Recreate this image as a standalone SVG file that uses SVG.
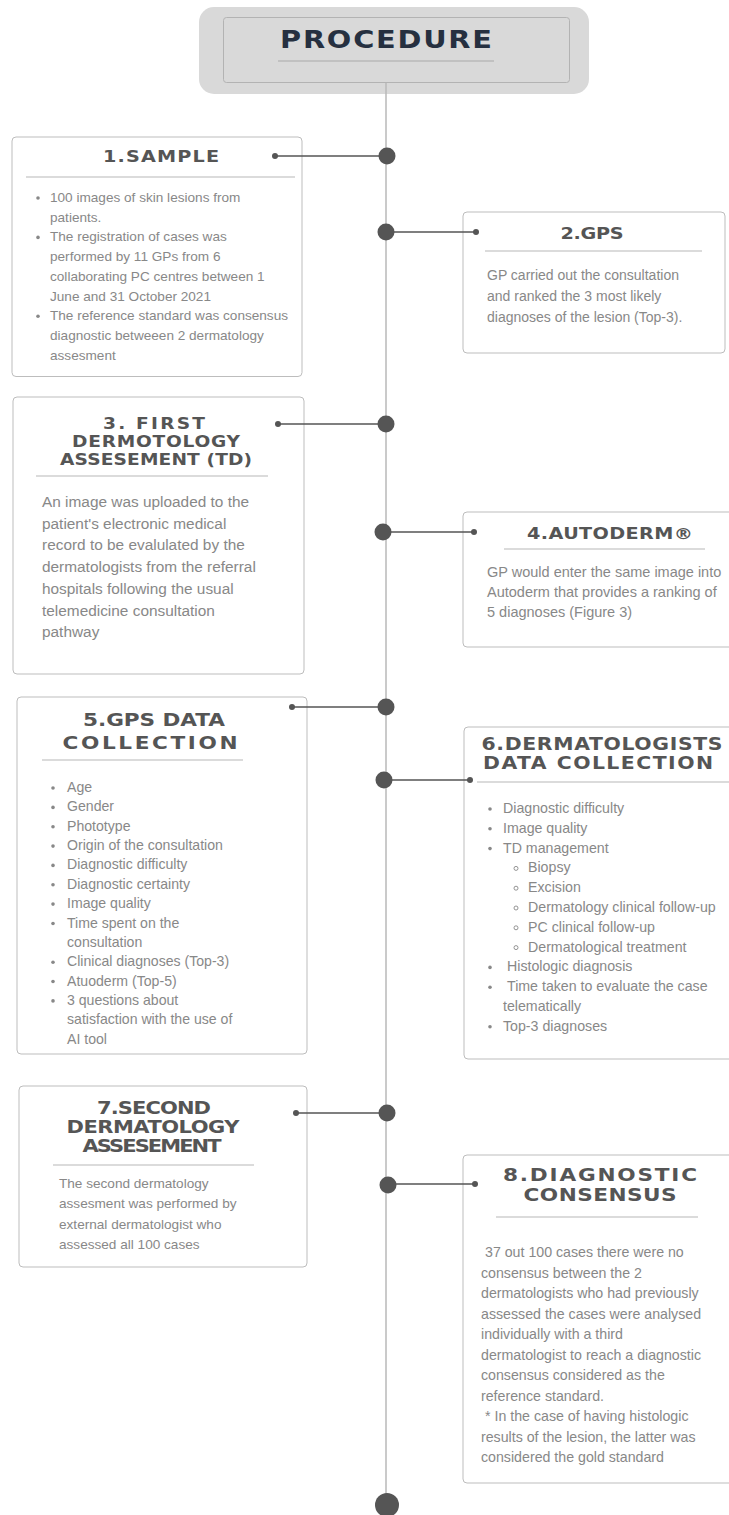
<svg xmlns="http://www.w3.org/2000/svg" width="729" height="1515" viewBox="0 0 729 1515">
<style>
.box{fill:#ffffff;stroke:#bdbdbd;stroke-width:1}
.sep{stroke:#cfcfcf;stroke-width:1.3}
.ttl{font-family:"DejaVu Sans","Liberation Sans",sans-serif;font-weight:bold;fill:#555555;text-anchor:middle}
.b{font-family:"Liberation Sans",Arial,sans-serif;fill:#888888}
.bul{fill:#888888}
.sub{fill:none;stroke:#888888;stroke-width:0.9}
.con{stroke:#555555;stroke-width:1.3;fill:none}
.big{fill:#555555}
.sm{fill:#555555}
</style>
<rect width="729" height="1515" fill="#ffffff"/>

<g id="header">
  <rect x="199" y="7" width="390" height="87" rx="15" fill="#d9d9d9"/>
  <rect x="223.5" y="17.5" width="346" height="65" rx="3" fill="#d9d9d9" stroke="#b3b3b3" stroke-width="1"/>
  <text transform="translate(386,48) scale(1.2,1)" class="ttl" style="fill:#263040;font-size:24px" textLength="176.7" lengthAdjust="spacing">PROCEDURE</text>
  <line x1="278" y1="61" x2="494" y2="61" stroke="#a9a9a9" stroke-width="1"/>
</g>

<g id="node1">
  <rect class="box" x="12" y="137" width="290" height="239.5" rx="4"/>
  <text transform="translate(161,162) scale(1.2,1)" class="ttl" style="font-size:16px" textLength="96.7" lengthAdjust="spacing">1.SAMPLE</text>
  <line class="sep" x1="26" y1="177" x2="295" y2="177"/>
  <g class="b" style="font-size:13.6px">
    <text x="50" y="202">100 images of skin lesions from</text>
    <text x="50" y="221.7">patients.</text>
    <text x="50" y="241.4">The registration of cases was</text>
    <text x="50" y="261.1">performed by 11 GPs from 6</text>
    <text x="50" y="280.8">collaborating PC centres between 1</text>
    <text x="50" y="300.5">June and 31 October 2021</text>
    <text x="50" y="320.2">The reference standard was consensus</text>
    <text x="50" y="339.9">diagnostic betweeen 2 dermatology</text>
    <text x="50" y="359.6">assesment</text>
  </g>
  <circle class="bul" cx="38" cy="198" r="1.8"/>
  <circle class="bul" cx="38" cy="237.4" r="1.8"/>
  <circle class="bul" cx="38" cy="316.2" r="1.8"/>
</g>

<g id="node2">
  <rect class="box" x="463" y="212" width="262" height="141" rx="4"/>
  <text transform="translate(592,239) scale(1.2,1)" class="ttl" style="font-size:16px" textLength="52.5" lengthAdjust="spacing">2.GPS</text>
  <line class="sep" x1="485" y1="251" x2="702" y2="251"/>
  <g class="b" style="font-size:14px">
    <text x="487" y="280">GP carried out the consultation</text>
    <text x="487" y="301">and ranked the 3 most likely</text>
    <text x="487" y="322">diagnoses of the lesion (Top-3).</text>
  </g>
</g>

<g id="node3">
  <rect class="box" x="13" y="397" width="291" height="277" rx="4"/>
  <text transform="translate(154,429) scale(1.2,1)" class="ttl" style="font-size:15.5px" textLength="85" lengthAdjust="spacing">3. FIRST</text>
  <text transform="translate(156,447) scale(1.2,1)" class="ttl" style="font-size:15.5px" textLength="140" lengthAdjust="spacing">DERMOTOLOGY</text>
  <text transform="translate(156,465) scale(1.2,1)" class="ttl" style="font-size:15.5px" textLength="160" lengthAdjust="spacing">ASSESEMENT (TD)</text>
  <line class="sep" x1="36" y1="476" x2="268" y2="476"/>
  <g class="b" style="font-size:15.4px">
    <text x="42" y="507">An image was uploaded to the</text>
    <text x="42" y="528.7">patient's electronic medical</text>
    <text x="42" y="550.4">record to be evalulated by the</text>
    <text x="42" y="572.1">dermatologists from the referral</text>
    <text x="42" y="593.8">hospitals following the usual</text>
    <text x="42" y="615.5">telemedicine consultation</text>
    <text x="42" y="637.2">pathway</text>
  </g>
</g>

<g id="node4">
  <rect class="box" x="463" y="512" width="280" height="135" rx="4"/>
  <text transform="translate(610,539) scale(1.2,1)" class="ttl" style="font-size:16px" textLength="138.3" lengthAdjust="spacing">4.AUTODERM®</text>
  <line class="sep" x1="504" y1="549" x2="705" y2="549"/>
  <g class="b" style="font-size:14.5px">
    <text x="487" y="577">GP would enter the same image into</text>
    <text x="487" y="597">Autoderm that provides a ranking of</text>
    <text x="487" y="617">5 diagnoses (Figure 3)</text>
  </g>
</g>

<g id="node5">
  <rect class="box" x="17" y="697" width="290" height="357" rx="4"/>
  <text transform="translate(154,726) scale(1.2,1)" class="ttl" style="font-size:18px" textLength="118.3" lengthAdjust="spacing">5.GPS DATA</text>
  <text transform="translate(150,749) scale(1.2,1)" class="ttl" style="font-size:18px" textLength="145.8" lengthAdjust="spacing">COLLECTION</text>
  <line class="sep" x1="42" y1="760" x2="243" y2="760"/>
  <g class="b" style="font-size:14.1px">
    <text x="67" y="792">Age</text>
    <text x="67" y="811.4">Gender</text>
    <text x="67" y="830.7">Phototype</text>
    <text x="67" y="850.1">Origin of the consultation</text>
    <text x="67" y="869.4">Diagnostic difficulty</text>
    <text x="67" y="888.8">Diagnostic certainty</text>
    <text x="67" y="908.1">Image quality</text>
    <text x="67" y="927.5">Time spent on the</text>
    <text x="67" y="946.8">consultation</text>
    <text x="67" y="966.2">Clinical diagnoses (Top-3)</text>
    <text x="67" y="985.5">Atuoderm (Top-5)</text>
    <text x="67" y="1004.9">3 questions about</text>
    <text x="67" y="1024.2">satisfaction with the use of</text>
    <text x="67" y="1043.6">AI tool</text>
  </g>
  <g class="bul">
    <circle cx="53" cy="788" r="1.8"/>
    <circle cx="53" cy="807.4" r="1.8"/>
    <circle cx="53" cy="826.7" r="1.8"/>
    <circle cx="53" cy="846.1" r="1.8"/>
    <circle cx="53" cy="865.4" r="1.8"/>
    <circle cx="53" cy="884.8" r="1.8"/>
    <circle cx="53" cy="904.1" r="1.8"/>
    <circle cx="53" cy="923.5" r="1.8"/>
    <circle cx="53" cy="962.2" r="1.8"/>
    <circle cx="53" cy="981.5" r="1.8"/>
    <circle cx="53" cy="1000.9" r="1.8"/>
  </g>
</g>

<g id="node6">
  <rect class="box" x="464" y="727" width="280" height="332" rx="4"/>
  <text transform="translate(602,750) scale(1.2,1)" class="ttl" style="font-size:17px" textLength="200.8" lengthAdjust="spacing">6.DERMATOLOGISTS</text>
  <text transform="translate(598,769) scale(1.2,1)" class="ttl" style="font-size:17px" textLength="191.7" lengthAdjust="spacing">DATA COLLECTION</text>
  <line class="sep" x1="477" y1="782" x2="729" y2="782"/>
  <g class="b" style="font-size:14.2px">
    <text x="503" y="813">Diagnostic difficulty</text>
    <text x="503" y="832.8">Image quality</text>
    <text x="503" y="852.6">TD management</text>
    <text x="528" y="872.4">Biopsy</text>
    <text x="528" y="892.2">Excision</text>
    <text x="528" y="912">Dermatology clinical follow-up</text>
    <text x="528" y="931.8">PC clinical follow-up</text>
    <text x="528" y="951.6">Dermatological treatment</text>
    <text x="507" y="971.4">Histologic diagnosis</text>
    <text x="507" y="991.2">Time taken to evaluate the case</text>
    <text x="503" y="1011">telematically</text>
    <text x="503" y="1030.8">Top-3 diagnoses</text>
  </g>
  <g class="bul">
    <circle cx="490" cy="809" r="1.8"/>
    <circle cx="490" cy="828.8" r="1.8"/>
    <circle cx="490" cy="848.6" r="1.8"/>
    <circle cx="490" cy="967.4" r="1.8"/>
    <circle cx="490" cy="987.2" r="1.8"/>
    <circle cx="490" cy="1026.8" r="1.8"/>
  </g>
  <g class="sub">
    <circle cx="516" cy="868.4" r="2"/>
    <circle cx="516" cy="888.2" r="2"/>
    <circle cx="516" cy="908" r="2"/>
    <circle cx="516" cy="927.8" r="2"/>
    <circle cx="516" cy="947.6" r="2"/>
  </g>
</g>

<g id="node7">
  <rect class="box" x="19" y="1086" width="288" height="181" rx="4"/>
  <text transform="translate(154,1114) scale(1.2,1)" class="ttl" style="font-size:17.5px" textLength="95" lengthAdjust="spacing">7.SECOND</text>
  <text transform="translate(153,1133) scale(1.2,1)" class="ttl" style="font-size:17.5px" textLength="144.2" lengthAdjust="spacing">DERMATOLOGY</text>
  <text transform="translate(152,1152) scale(1.2,1)" class="ttl" style="font-size:17.5px" textLength="115.8" lengthAdjust="spacing">ASSESEMENT</text>
  <line class="sep" x1="53" y1="1165" x2="254" y2="1165"/>
  <g class="b" style="font-size:13.6px">
    <text x="59" y="1188">The second dermatology</text>
    <text x="59" y="1208.3">assesment was performed by</text>
    <text x="59" y="1228.6">external dermatologist who</text>
    <text x="59" y="1248.9">assessed all 100 cases</text>
  </g>
</g>

<g id="node8">
  <rect class="box" x="463" y="1155" width="280" height="328" rx="4"/>
  <text transform="translate(600,1181) scale(1.2,1)" class="ttl" style="font-size:18px" textLength="161.7" lengthAdjust="spacing">8.DIAGNOSTIC</text>
  <text transform="translate(600,1201) scale(1.2,1)" class="ttl" style="font-size:18px" textLength="127.5" lengthAdjust="spacing">CONSENSUS</text>
  <line class="sep" x1="496" y1="1217" x2="698" y2="1217"/>
  <g class="b" style="font-size:14.2px">
    <text x="485" y="1257">37 out 100 cases there were no</text>
    <text x="481" y="1277.5">consensus between the 2</text>
    <text x="481" y="1298">dermatologists who had previously</text>
    <text x="481" y="1318.5">assessed the cases were analysed</text>
    <text x="481" y="1339">individually with a third</text>
    <text x="481" y="1359.5">dermatologist to reach a diagnostic</text>
    <text x="481" y="1380">consensus considered as the</text>
    <text x="481" y="1400.5">reference standard.</text>
    <text x="485" y="1421">* In the case of having histologic</text>
    <text x="481" y="1441.5">results of the lesion, the latter was</text>
    <text x="481" y="1462">considered the gold standard</text>
  </g>
</g>

<g id="connectors">
  <line x1="386" y1="83" x2="386" y2="1500" stroke="#b8b8b8" stroke-width="1.5"/>
  <line class="con" x1="275" y1="156" x2="386" y2="156"/>
  <line class="con" x1="386" y1="232" x2="476" y2="232"/>
  <line class="con" x1="278" y1="424" x2="386" y2="424"/>
  <line class="con" x1="384" y1="532" x2="474" y2="532"/>
  <line class="con" x1="292" y1="707" x2="386" y2="707"/>
  <line class="con" x1="384" y1="780" x2="470" y2="780"/>
  <line class="con" x1="296" y1="1113" x2="386" y2="1113"/>
  <line class="con" x1="388" y1="1184" x2="475" y2="1184"/>
  <circle class="sm" cx="275" cy="156" r="3"/>
  <circle class="sm" cx="476" cy="232" r="3"/>
  <circle class="sm" cx="278" cy="424" r="3"/>
  <circle class="sm" cx="474" cy="532" r="3"/>
  <circle class="sm" cx="292" cy="707" r="3"/>
  <circle class="sm" cx="470" cy="780" r="3"/>
  <circle class="sm" cx="296" cy="1113" r="3"/>
  <circle class="sm" cx="475" cy="1184" r="3"/>
  <circle class="big" cx="387" cy="156" r="8.5"/>
  <circle class="big" cx="386" cy="232" r="8.5"/>
  <circle class="big" cx="386" cy="424" r="8.5"/>
  <circle class="big" cx="383" cy="532" r="8.5"/>
  <circle class="big" cx="386" cy="707" r="8.5"/>
  <circle class="big" cx="384" cy="780" r="8.5"/>
  <circle class="big" cx="387" cy="1113" r="8.5"/>
  <circle class="big" cx="388" cy="1185" r="8.5"/>
  <circle class="big" cx="387" cy="1505" r="12"/>
</g>
</svg>
